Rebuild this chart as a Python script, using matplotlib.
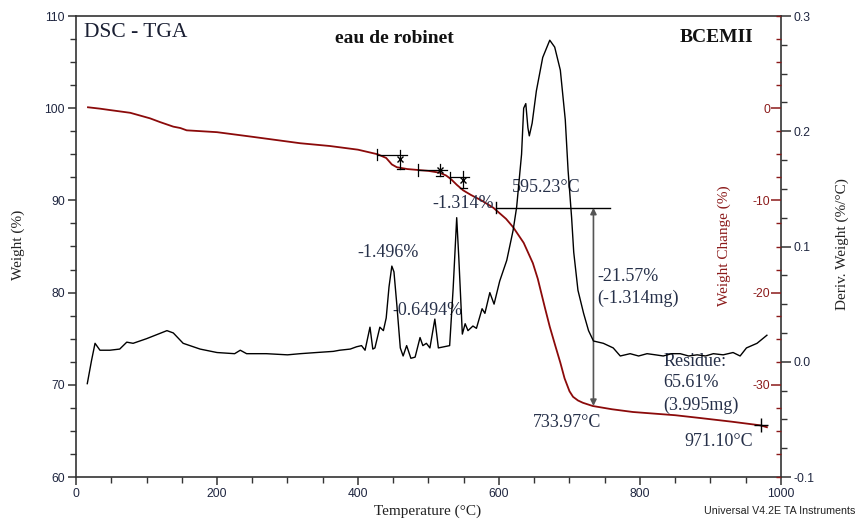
import matplotlib
matplotlib.use("Agg")
import matplotlib.pyplot as plt
from matplotlib.ticker import MultipleLocator

plt.rcParams["axes.unicode_minus"] = False

# ---------------- data ----------------
tga_temp = [17, 34, 48, 77, 105, 119, 138, 148, 157, 200, 250, 318, 360, 400, 428,
            440, 448, 455, 470, 500, 516, 525, 532, 540, 549, 560, 575, 592, 610,
            620, 635, 648, 655, 665, 672, 680, 687, 693, 700, 705, 712, 719, 725, 733,
            760, 790, 850, 885, 930, 971, 980]
tga_weight = [100.1, 99.95, 99.8, 99.5, 98.9, 98.5, 98.0, 97.85, 97.6, 97.4, 96.9,
              96.2, 95.9, 95.5, 95.0, 94.6, 93.9, 93.6, 93.4, 93.2, 93.0, 92.7, 92.3,
              91.7, 91.1, 90.6, 90.0, 89.2, 88.0, 87.1, 85.4, 83.2, 81.5, 78.4, 76.3,
              74.2, 72.4, 70.7, 69.3, 68.7, 68.3, 68.05, 67.9, 67.7, 67.35, 67.05, 66.7,
              66.4, 66.0, 65.6, 65.4]

dtg_temp = [16, 22, 27, 34, 48, 62, 72, 81, 100, 129, 138, 152, 176, 200, 225, 233,
            242, 270, 300, 318, 341, 365, 374, 389, 398, 405, 410, 417, 421, 424, 431,
            436, 440, 444, 448, 451, 455, 460, 464, 469, 475, 481, 488, 492, 497, 502,
            509, 514, 530, 535, 540, 543, 548, 552, 556, 563, 568, 576, 580, 587, 593,
            601, 611, 620, 625, 632, 635, 638, 641, 643, 647, 653, 662, 672, 679, 687,
            694, 698, 703, 706, 712, 720, 727, 734, 748, 762, 772, 786, 798, 810, 822,
            833, 845, 857, 869, 881, 893, 904, 918, 932, 942, 951, 966, 980]
dtg_deriv = [-0.019, 0.001, 0.016, 0.010, 0.010, 0.011, 0.017, 0.016, 0.020, 0.027,
             0.025, 0.016, 0.011, 0.008, 0.007, 0.010, 0.007, 0.007, 0.006, 0.007,
             0.008, 0.009, 0.010, 0.011, 0.013, 0.014, 0.010, 0.030, 0.011, 0.012,
             0.030, 0.027, 0.038, 0.065, 0.083, 0.078, 0.050, 0.012, 0.005, 0.014,
             0.003, 0.004, 0.021, 0.014, 0.016, 0.012, 0.037, 0.012, 0.014, 0.064,
             0.125, 0.090, 0.024, 0.033, 0.027, 0.031, 0.029, 0.046, 0.042, 0.060,
             0.050, 0.070, 0.088, 0.114, 0.134, 0.180, 0.220, 0.224, 0.203, 0.196,
             0.207, 0.235, 0.264, 0.279, 0.273, 0.253, 0.210, 0.166, 0.125, 0.095,
             0.062, 0.042, 0.027, 0.018, 0.016, 0.012, 0.005, 0.007, 0.005, 0.007,
             0.006, 0.005, 0.007, 0.007, 0.005, 0.006, 0.005, 0.007, 0.006, 0.008,
             0.005, 0.012, 0.016, 0.023]

# step-analysis marks (TA software)
step_start = [427, 485, 530]
step_end = [470, 526, 558]
step_level = [94.95, 93.3, 92.5]
star_temp = [460, 516, 549]
star_top = [95.5, 93.9, 93.2]
star_bottom = [93.4, 92.6, 91.3]

step_labels = ["-1.496%", "-0.6494%", "-1.314%"]
step_label_T = [443, 498, 549]
step_label_W = [84.4, 78.1, 89.7]

onset_T = 595.23
onset_W = 89.2
end_T = 733.97
end_W = 67.7
final_T = 971.10
final_W = 65.6

# ---------------- style ----------------
serif = ["Liberation Serif", "DejaVu Serif"]
sans = ["Liberation Sans", "DejaVu Sans"]
red = "#8b1a1a"
txt = "#263049"
tickc = "#1f2640"

fig = plt.figure(figsize=(8.59, 5.19), dpi=100)
ax = fig.add_axes([76 / 859, 1 - 477 / 519, (781 - 76) / 859, (477 - 16) / 519])
ax.set_xlim(0, 1000)
ax.set_ylim(60, 110)
ax.xaxis.set_major_locator(MultipleLocator(200))
ax.xaxis.set_minor_locator(MultipleLocator(50))
ax.yaxis.set_major_locator(MultipleLocator(10))
ax.yaxis.set_minor_locator(MultipleLocator(2.5))
ax.tick_params(which="major", direction="out", length=6, width=1.1, color="#333333",
               labelsize=8.7, labelcolor=tickc, pad=2)
ax.tick_params(which="minor", direction="out", length=4, width=1.0, color="#333333")
ax.tick_params(axis="y", which="both", right=False)
for lab in ax.get_xticklabels() + ax.get_yticklabels():
    lab.set_family(sans)
for s in ax.spines.values():
    s.set_linewidth(1.2)
    s.set_color("#333333")

# Weight change axis (labels inside, left of right spine)
ax3 = ax.twinx()
ax3.set_ylim(60 - 100, 110 - 100)
ax3.yaxis.set_ticks_position("left")
ax3.spines["left"].set_position(("axes", 1.0))
for k in ["top", "bottom", "right", "left"]:
    ax3.spines[k].set_visible(False)
ax3.yaxis.set_minor_locator(MultipleLocator(2.5))
ax3.set_yticks([-30, -20, -10, 0])
ax3.tick_params(which="major", direction="out", length=7, width=1.1, color=red,
                labelsize=8.7, labelcolor=red, pad=1)
ax3.tick_params(which="minor", direction="out", length=3.5, width=1.0, color=red)
for lab in ax3.get_yticklabels():
    lab.set_family(sans)

# Derivative axis
ax2 = ax.twinx()
ax2.set_ylim(-0.1, 0.3)
ax2.yaxis.set_minor_locator(MultipleLocator(0.025))
ax2.set_yticks([-0.1, 0.0, 0.1, 0.2, 0.3])
ax2.set_yticklabels(["-0.1", "0.0", "0.1", "0.2", "0.3"])
ax2.tick_params(which="major", direction="out", length=7, width=1.1, color="#333333",
                labelsize=8.7, labelcolor=tickc, pad=2)
ax2.tick_params(which="minor", direction="out", length=4, width=1.0, color="#333333")
for lab in ax2.get_yticklabels():
    lab.set_family(sans)
for s in ax2.spines.values():
    s.set_visible(False)

# curves
ax2.plot(dtg_temp, dtg_deriv, color="black", lw=1.0, zorder=3)
ax.plot(tga_temp, tga_weight, color="#8b0a0a", lw=1.3, zorder=4)

# step marks
for i in range(len(step_start)):
    ax.plot([step_start[i], step_end[i]], [step_level[i], step_level[i]], color="black", lw=0.9, zorder=5)
    ax.plot([step_start[i], step_start[i]], [step_level[i] - 0.6, step_level[i] + 0.6], color="black", lw=0.9, zorder=5)
    ax.plot([star_temp[i], star_temp[i]], [star_top[i], star_bottom[i]], color="black", lw=0.9, zorder=5)
    ax.plot([star_temp[i]], [(star_top[i] + star_bottom[i]) / 2], marker="x", ms=5, mew=1.0, color="black", zorder=5)
    ax.plot([star_temp[i] - 5, star_temp[i] + 5], [star_bottom[i], star_bottom[i]], color="black", lw=0.9, zorder=5)
    ax.text(step_label_T[i], step_label_W[i], step_labels[i], ha="center", va="center",
            fontsize=13, family=serif, color=txt, zorder=6)

# onset / end construction
ax.plot([onset_T, 757], [onset_W, onset_W], color="black", lw=1.0, zorder=5)
ax.plot([onset_T, onset_T], [onset_W - 0.6, onset_W + 0.6], color="black", lw=1.0, zorder=5)
ax.annotate("", xy=(end_T, onset_W), xytext=(end_T, end_W),
            arrowprops=dict(arrowstyle="<|-|>", color="#555555", lw=1.2,
                            mutation_scale=9, shrinkA=0, shrinkB=0), zorder=5)
ax.plot([final_T], [final_W], marker="+", ms=10, mew=1.0, color="black", zorder=6)

ax.text(onset_T + 71, 91.35, "595.23°C", ha="center", va="center", fontsize=13, family=serif, color=txt)
ax.text(739, 81.8, "-21.57%", ha="left", va="center", fontsize=13, family=serif, color=txt)
ax.text(739, 79.4, "(-1.314mg)", ha="left", va="center", fontsize=13, family=serif, color=txt)
ax.text(833, 72.5, "Residue:", ha="left", va="center", fontsize=13, family=serif, color=txt)
ax.text(833, 70.2, "65.61%", ha="left", va="center", fontsize=13, family=serif, color=txt)
ax.text(833, 67.8, "(3.995mg)", ha="left", va="center", fontsize=13, family=serif, color=txt)
ax.text(end_T - 38, 65.9, "733.97°C", ha="center", va="center", fontsize=13, family=serif, color=txt)
ax.text(final_T - 59, 63.9, "971.10°C", ha="center", va="center", fontsize=13, family=serif, color=txt)

# titles
ax.text(11, 108.2, "DSC - TGA", ha="left", va="center", fontsize=15.5, family=serif, color="#1a1f33")
ax.text(452, 107.6, "eau de robinet", ha="center", va="center", fontsize=14, family=serif,
        weight="bold", color="#111111")
ax.text(908, 107.7, "BCEMII", ha="center", va="center", fontsize=14, family=serif,
        weight="bold", color="#111111")

# axis labels
fig.text(18 / 859, 1 - 245 / 519, "Weight (%)", rotation=90, ha="center", va="center",
         fontsize=11, family=serif, color="#222222")
fig.text(428 / 859, 1 - 511 / 519, "Temperature (°C)", ha="center", va="center",
         fontsize=11, family=serif, color="#222222")
fig.text(724 / 859, 1 - 246 / 519, "Weight Change (%)", rotation=90, ha="center", va="center",
         fontsize=11, family=serif, color=red)
fig.text(842 / 859, 1 - 244 / 519, "Deriv. Weight (%/°C)", rotation=90, ha="center", va="center",
         fontsize=11, family=serif, color="#222222")
fig.text(855 / 859, 1 - 511 / 519, "Universal V4.2E TA Instruments", ha="right", va="center",
         fontsize=7.7, family=sans, color="#222222")

fig.savefig("out.png", dpi=100)
